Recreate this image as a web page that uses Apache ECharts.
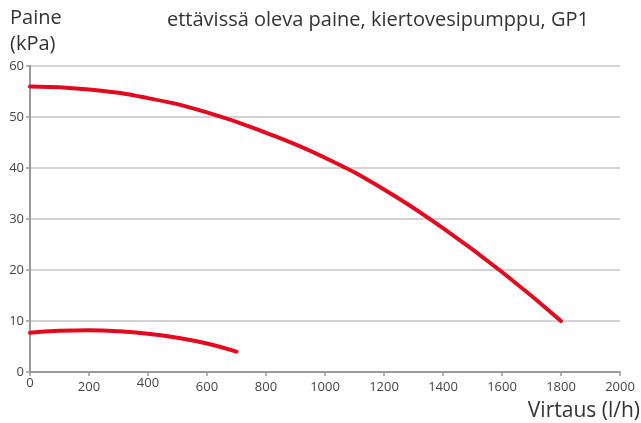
<!DOCTYPE html>
<html>
<head>
<meta charset="utf-8">
<script src="https://cdn.jsdelivr.net/npm/echarts@6/dist/echarts.min.js"></script>
<style>
  html, body { margin: 0; padding: 0; background: #fff; }
  #chart { width: 641px; height: 423px; }
</style>
</head>
<body>
<div id="chart"></div>
<script>
// Flow (l/h) vs. available pressure (kPa)
const flowUpper = [0, 200, 400, 600, 800, 1000, 1200, 1400, 1600, 1800];
const pressureUpper = [56, 55.4, 53.7, 50.9, 46.9, 42.0, 35.8, 28.2, 19.6, 10];
const flowLower = [0, 100, 200, 300, 400, 500, 600, 700];
const pressureLower = [7.7, 8.1, 8.2, 8.0, 7.5, 6.7, 5.6, 4.0];
const xTicks = [0, 200, 400, 600, 800, 1000, 1200, 1400, 1600, 1800, 2000];
const yTicks = [0, 10, 20, 30, 40, 50, 60];

const titleText = 'ettävissä oleva paine, kiertovesipumppu, GP1';
const yName = 'Paine\n(kPa)';
const xName = 'Virtaus (l/h)';

const font = 'Open Sans';
const red = '#e10a1e';

const chart = echarts.init(document.getElementById('chart'), null, { renderer: 'canvas' });

const pairs = (xs, ys) => xs.map((x, i) => [x, ys[i]]);

chart.setOption({
  animation: false,
  backgroundColor: '#fff',
  textStyle: { fontFamily: font },
  title: {
    text: titleText,
    left: 162,
    top: 5,
    textStyle: { fontFamily: font, fontSize: 20, fontWeight: 'normal', color: '#333' }
  },
  graphic: [
    {
      type: 'text',
      left: 10,
      top: 5,
      style: { text: yName, font: '20px "' + font + '"', fill: '#333', lineHeight: 26 }
    },
    {
      type: 'text',
      right: 1,
      top: 401,
      style: { text: xName, font: '21px "' + font + '"', fill: '#333' }
    }
  ],
  grid: { left: 30, right: 21, top: 66, bottom: 51, containLabel: false },
  xAxis: {
    type: 'value',
    min: xTicks[0],
    max: xTicks[xTicks.length - 1],
    interval: 200,
    axisLine: { show: true, lineStyle: { color: '#9a9a9a', width: 2 } },
    axisTick: { show: true, length: 4, lineStyle: { color: '#9a9a9a', width: 1.5 } },
    splitLine: { show: false },
    axisLabel: {
      color: '#444', fontSize: 13, fontFamily: font, margin: 5,
      formatter: v => (v === 0 || v === 400) ? '{hi|' + v + '}' : '{lo|' + v + '}',
      rich: {
        hi: { fontSize: 13, fontFamily: font, color: '#444', padding: [0, 0, 0, 0] },
        lo: { fontSize: 13, fontFamily: font, color: '#444', padding: [4, 0, 0, 0] }
      }
    }
  },
  yAxis: {
    type: 'value',
    min: yTicks[0],
    max: yTicks[yTicks.length - 1],
    interval: 10,
    axisLine: { show: true, lineStyle: { color: '#9a9a9a', width: 2 } },
    axisTick: { show: true, length: 4, lineStyle: { color: '#9a9a9a', width: 1.5 } },
    splitLine: { show: true, lineStyle: { color: '#c4c4c4', width: 1.5 } },
    axisLabel: { color: '#444', fontSize: 13, fontFamily: font, margin: 6 }
  },
  series: [
    {
      type: 'line',
      data: pairs(flowUpper, pressureUpper),
      smooth: 0.5,
      showSymbol: false,
      lineStyle: { color: red, width: 4, cap: 'round' }
    },
    {
      type: 'line',
      data: pairs(flowLower, pressureLower),
      smooth: 0.5,
      showSymbol: false,
      lineStyle: { color: red, width: 4, cap: 'round' }
    }
  ]
});
</script>
</body>
</html>
